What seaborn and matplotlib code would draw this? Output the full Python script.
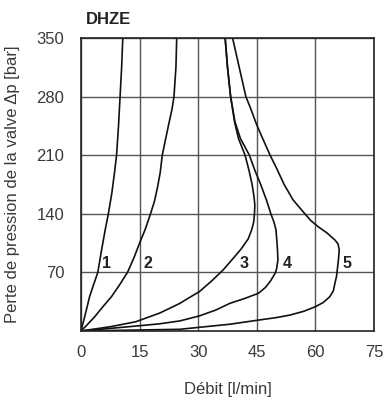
import pandas as pd
import seaborn as sns
import matplotlib.pyplot as plt

# flow [l/min] and pressure drop [bar], one list pair per curve
flow_1 = [0, 1.0, 2.2, 3.2, 4.3, 5.2, 6.2, 7.0, 7.9, 8.6, 9.1, 9.6, 10.0, 10.4, 10.7]
dp_1 = [0, 18, 41, 55, 70, 95, 121, 140, 165, 190, 210, 245, 280, 315, 350]

flow_2 = [0, 1.5, 3.5, 5.6, 7.8, 10.0, 11.9, 13.6, 15.0, 16.4, 17.8, 18.8, 19.6, 20.3,
          20.8, 21.6, 22.5, 23.3, 23.8, 24.3, 24.5]
dp_2 = [0, 7, 17, 29, 41, 56, 70, 88, 105, 121, 140, 155, 172, 190,
        210, 228, 248, 265, 280, 315, 350]

flow_3 = [0, 7.4, 14, 20.2, 25.3, 27.4, 30.3, 33.5, 36.4, 39, 41, 42.8, 43.7, 44.2,
          44.4, 44.5, 44.3, 43.8, 43, 42, 40.3, 39.3, 38.3, 37.5, 36.9]
dp_3 = [0, 5, 11, 21.5, 33, 39, 47, 60, 73, 87, 98, 110, 121, 130,
        140, 150, 160, 175, 192, 210, 230, 250, 280, 315, 350]

flow_4 = [0, 12, 20, 25.3, 30.3, 34.5, 38.1, 42, 45.4, 47.2, 48.4, 49.2, 49.8, 50.1,
          50.4, 50.3, 50.1, 49.9, 49.4, 48.6, 47.5, 46, 44.5, 43.1, 40.8, 39.4,
          38.3, 37.5, 36.9]
dp_4 = [0, 5, 8.5, 12, 18, 25, 33, 39, 45, 52, 59, 65, 70, 75,
        85, 97, 110, 121, 130, 140, 156, 175, 192, 210, 230, 250,
        280, 315, 350]

flow_5 = [0, 10, 25.3, 30.3, 38, 45.4, 50, 53.5, 57, 60, 62, 63.7, 64.6, 65, 65.4,
          65.6, 65.9, 66.1, 65.8, 65, 63, 60.7, 58.8, 57.3, 54.3, 52, 50, 48.4,
          46.5, 45, 43.5, 42.2, 40.5, 38.8]
dp_5 = [0, 0.8, 2, 4.4, 8, 13, 16, 19, 23.5, 29, 34, 41, 48, 57, 65,
        73, 85, 97, 104, 108.7, 117, 124.6, 132, 140, 156.5, 175, 195, 210,
        230, 246, 265, 280, 315, 350]

curve_names = ['1', '2', '3', '4', '5']
label_pos = [(6.6, 81), (17.2, 81), (41.8, 81), (52.8, 81), (68.2, 81)]

x_ticks = [0, 15, 30, 45, 60, 75]
y_ticks = [70, 140, 210, 280, 350]

frames = []
for name, fx, fy in zip(curve_names, [flow_1, flow_2, flow_3, flow_4, flow_5],
                        [dp_1, dp_2, dp_3, dp_4, dp_5]):
    frames.append(pd.DataFrame({'curve': name, 'flow': fx, 'dp': fy}))
df = pd.concat(frames, ignore_index=True)

sns.set_style('white')
plt.rcParams['font.family'] = ['Liberation Sans', 'DejaVu Sans']

fig = plt.figure(figsize=(3.85, 4.03), dpi=100)
ax = fig.add_axes([0.2104, 0.1787, 0.761, 0.727])

sns.lineplot(data=df, x='flow', y='dp', units='curve', estimator=None, sort=False,
             color='#111111', linewidth=1.2, ax=ax)

for name, (lx, ly) in zip(curve_names, label_pos):
    ax.text(lx, ly, name, ha='center', va='center', fontsize=11.5,
            fontweight='bold', color='#222222')

ax.set_xlim(0, 75)
ax.set_ylim(0, 350)
ax.set_xticks(x_ticks)
ax.set_yticks(y_ticks)
ax.grid(True, color='#555555', linewidth=1)
ax.tick_params(axis='both', length=0, labelsize=12, labelcolor='#3a3a3a')
ax.tick_params(axis='y', pad=12)
ax.tick_params(axis='x', pad=10)
for s in ax.spines.values():
    s.set_color('#222222')
    s.set_linewidth(1.2)

ax.set_xlabel('Débit [l/min]', fontsize=12, color='#3a3a3a', labelpad=16)
ax.set_ylabel('Perte de pression de la valve Δp [bar]', fontsize=12,
              color='#3a3a3a', labelpad=12)
ax.set_title('DHZE', loc='left', fontsize=12, fontweight='bold', color='#222222',
             x=0.015, pad=10)

fig.savefig('out.png', dpi=100)
